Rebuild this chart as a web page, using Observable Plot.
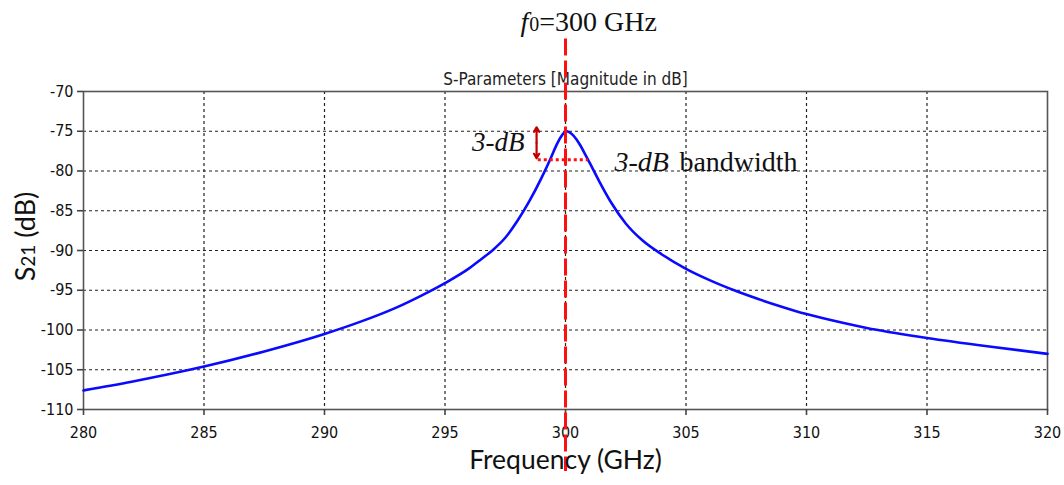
<!DOCTYPE html>
<html>
<head>
<meta charset="utf-8">
<script src="https://cdn.jsdelivr.net/npm/d3@7"></script>
<script src="https://cdn.jsdelivr.net/npm/@observablehq/plot@0.6"></script>
<style>
  html, body { margin: 0; padding: 0; background: #fff; }
  #chart svg { display: block; }
</style>
</head>
<body>
<div id="chart"></div>
<script>
// Frequency (GHz) and S21 (dB)
const freq = [280, 282, 285, 287.5, 290, 291.5, 293, 294, 295, 296, 296.5, 297, 297.5, 298, 298.5, 299, 299.4, 299.6, 299.8, 299.95, 300.05, 300.15, 300.3, 300.45, 300.6, 300.8, 301, 301.4, 301.9, 302.5, 303.2, 304, 305, 306, 307, 308, 309, 310, 311.5, 312.5, 315, 317.5, 320];
const s21  = [-107.6, -106.5, -104.6, -102.7, -100.5, -98.95, -97.15, -95.7, -94.1, -92.25, -91.1, -89.9, -88.4, -86.3, -83.8, -80.9, -78.3, -76.9, -75.75, -75.15, -75.0, -75.1, -75.45, -76.0, -76.7, -77.8, -78.95, -81.3, -84.0, -86.6, -88.75, -90.5, -92.3, -93.75, -95.0, -96.1, -97.1, -98.0, -99.1, -99.75, -101.0, -102.05, -103.0];

const xTicks = [280, 285, 290, 295, 300, 305, 310, 315, 320];
const yTicks = [-70, -75, -80, -85, -90, -95, -100, -105, -110];

const f0 = [300];                   // centre frequency marker
const f0LineSpan = [-63.4, -117.8]; // dB extent of the dashed marker line
const peakDb = [-74.5, -78.4];      // 3-dB arrow ends
const arrowFreq = [298.8];
const bwDb = [-78.6];               // 3-dB level line
const bwFreq = [298.87, 300.95];    // 3-dB band edges

const titleText = ["S-Parameters [Magnitude in dB]"];
const f0Text = ["f0=300 GHz"];
const xLabel = ["Frequency (GHz)"];
const yLabel = ["S21 (dB)"];

const data = freq.map((f, i) => ({f, v: s21[i]}));
const tickFont = "'DejaVu Sans Condensed', Tahoma, 'DejaVu Sans', sans-serif";
const serif = "'Liberation Serif', 'Times New Roman', serif";
const labelFont = "Lato, Calibri, 'Open Sans', sans-serif";
const midDb = (peakDb[0] + peakDb[1]) / 2;

const chart = Plot.plot({
  width: 1064,
  height: 485,
  marginTop: 91,
  marginBottom: 76,
  marginLeft: 83,
  marginRight: 17,
  style: {fontFamily: tickFont, fontSize: "16px", color: "#111", background: "#fff", overflow: "visible"},
  x: {domain: [280, 320]},
  y: {domain: [-110, -70]},
  marks: [
    Plot.gridX(xTicks.slice(1, -1), {stroke: "#222", strokeOpacity: 1, strokeWidth: 1.2, strokeDasharray: "3,3"}),
    Plot.gridY(yTicks.slice(1, -1), {stroke: "#222", strokeOpacity: 1, strokeWidth: 1.2, strokeDasharray: "3,3"}),
    Plot.frame({stroke: "#555", strokeWidth: 1.6}),
    Plot.axisX({ticks: xTicks, tickSize: 6, tickPadding: 11, label: null, stroke: "#444", strokeWidth: 1.6}),
    Plot.axisY({ticks: yTicks, tickSize: 6, tickPadding: 4, label: null, stroke: "#444", strokeWidth: 1.6, tickFormat: d => String(d)}),
    Plot.line(data, {x: "f", y: "v", stroke: "#0a0aff", strokeWidth: 2.6, curve: "monotone-x"}),
    Plot.text(titleText, {frameAnchor: "top", dy: -19, fontSize: 17, fill: "#222"}),
    Plot.ruleX(f0, {y1: f0LineSpan[0], y2: f0LineSpan[1], stroke: "#ff1010", strokeWidth: 3, strokeDasharray: "17,5"}),
    Plot.ruleY(bwDb, {x1: bwFreq[0], x2: bwFreq[1], stroke: "#ff1010", strokeWidth: 3, strokeDasharray: "3,3"}),
    Plot.arrow([peakDb[0], peakDb[1]], {x1: arrowFreq[0], x2: arrowFreq[0], y1: midDb, y2: d => d, stroke: "#c00000", strokeWidth: 2.2, headLength: 7}),
    Plot.text(["3-dB"], {x: arrowFreq[0], y: midDb, dx: -12, textAnchor: "end", fontSize: 27, fontStyle: "italic", fontFamily: serif, fill: "#111"}),
    Plot.text(["3-dB"], {x: bwFreq[1], y: bwDb[0], dx: 26, dy: 2, textAnchor: "start", fontSize: 28, fontStyle: "italic", fontFamily: serif, fill: "#111"}),
    Plot.text(["bandwidth"], {x: bwFreq[1], y: bwDb[0], dx: 91, dy: 2, textAnchor: "start", fontSize: 28, fontFamily: serif, fill: "#111"}),
    Plot.text(f0Text, {x: f0[0], y: -70, dx: -45, dy: -69, textAnchor: "start", fontSize: 28, fontFamily: serif, fill: "#111", className: "f0label"}),
    Plot.text(xLabel, {frameAnchor: "bottom", dy: 59, fontSize: 26.5, fontFamily: labelFont, fill: "#111"}),
    Plot.text(yLabel, {frameAnchor: "left", dx: -57, dy: -14, rotate: -90, textAnchor: "middle", fontSize: 27, fontFamily: labelFont, fill: "#111", className: "ylabel"})
  ]
});

document.getElementById("chart").appendChild(chart);

// Rich text: italic f with subscript 0, and S with subscript 21
const f0el = d3.select(chart).select("g.f0label text");
if (!f0el.empty()) {
  const t = f0el.text();
  f0el.text(null);
  f0el.append("tspan").attr("font-style", "italic").text(t.slice(0, 1));
  f0el.append("tspan").attr("font-size", 20).attr("dx", 1).text(t.slice(1, 2));
  f0el.append("tspan").text(t.slice(2));
}
const yel = d3.select(chart).select("g.ylabel text");
if (!yel.empty()) {
  const t = yel.text();
  yel.text(null);
  yel.append("tspan").text(t.slice(0, 1));
  yel.append("tspan").attr("font-size", 19).text(t.slice(1, 3));
  yel.append("tspan").text(t.slice(3));
}
</script>
</body>
</html>
